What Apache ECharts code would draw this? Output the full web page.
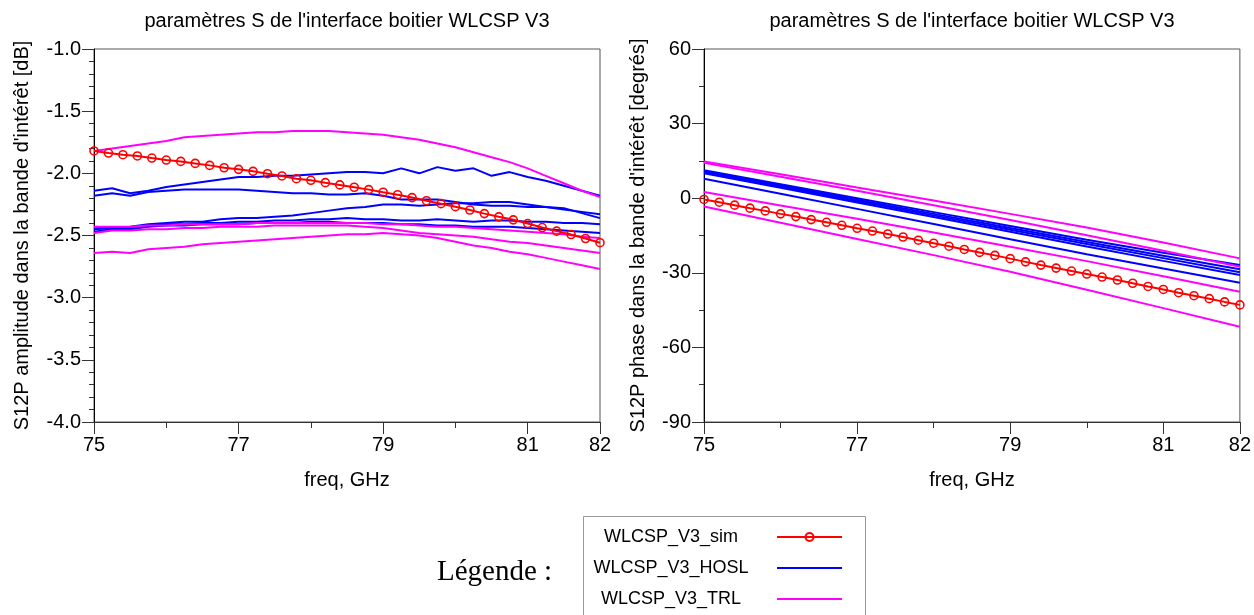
<!DOCTYPE html>
<html><head><meta charset="utf-8">
<script src="https://cdn.jsdelivr.net/npm/echarts@6/dist/echarts.min.js"></script>
<style>html,body{margin:0;padding:0;background:#fff}#c{width:1254px;height:615px}</style>
</head><body><div id="c"></div>
<script>
const TITLE = "paramètres S de l'interface boitier WLCSP V3";
const X_NAME = 'freq, GHz';
const Y_NAME_AMP = "S12P amplitude dans la bande d'intérêt [dB]";
const Y_NAME_PHASE = "S12P phase dans la bande d'intérêt [degrés]";
const NAME_SIM = 'WLCSP_V3_sim';
const NAME_HOSL = 'WLCSP_V3_HOSL';
const NAME_TRL = 'WLCSP_V3_TRL';
const LEGEND_LABEL = 'Légende :';
const F0 = 75;

const FREQ_SIM = [75,75.2,75.4,75.6,75.8,76,76.2,76.4,76.6,76.8,77,77.2,77.4,77.6,77.8,78,78.2,78.4,78.6,78.8,79,79.2,79.4,79.6,79.8,80,80.2,80.4,80.6,80.8,81,81.2,81.4,81.6,81.8,82];
const FREQ_MEAS = [75,75.25,75.5,75.75,76,76.25,76.5,76.75,77,77.25,77.5,77.75,78,78.25,78.5,78.75,79,79.25,79.5,79.75,80,80.25,80.5,80.75,81,81.25,81.5,81.75,82];
const FREQ_PH = [75,76,77,78,79,80,81,82];

// amplitude [dB]
const AMP_SIM = [-1.820,-1.837,-1.850,-1.860,-1.877,-1.893,-1.904,-1.920,-1.936,-1.955,-1.968,-1.984,-2.003,-2.021,-2.043,-2.056,-2.075,-2.093,-2.112,-2.131,-2.152,-2.172,-2.195,-2.220,-2.244,-2.268,-2.295,-2.324,-2.350,-2.374,-2.404,-2.436,-2.465,-2.492,-2.524,-2.558];
const AMP_HOSL_1 = [-2.14,-2.12,-2.16,-2.14,-2.11,-2.09,-2.07,-2.05,-2.03,-2.03,-2.02,-2.02,-2.01,-2.00,-1.99,-1.99,-2.00,-1.96,-2.00,-1.95,-1.98,-1.96,-2.02,-1.99,-2.03,-2.06,-2.10,-2.14,-2.18];
const AMP_HOSL_2 = [-2.18,-2.16,-2.18,-2.15,-2.14,-2.13,-2.13,-2.13,-2.13,-2.14,-2.15,-2.16,-2.16,-2.17,-2.17,-2.16,-2.18,-2.21,-2.21,-2.21,-2.23,-2.25,-2.26,-2.26,-2.27,-2.27,-2.29,-2.31,-2.33];
const AMP_HOSL_3 = [-2.43,-2.44,-2.43,-2.41,-2.40,-2.39,-2.39,-2.37,-2.36,-2.36,-2.35,-2.34,-2.32,-2.30,-2.28,-2.27,-2.25,-2.25,-2.26,-2.25,-2.24,-2.24,-2.23,-2.23,-2.25,-2.27,-2.28,-2.32,-2.36];
const AMP_HOSL_4 = [-2.45,-2.44,-2.44,-2.42,-2.41,-2.41,-2.40,-2.40,-2.39,-2.39,-2.38,-2.38,-2.37,-2.37,-2.36,-2.37,-2.37,-2.38,-2.38,-2.37,-2.38,-2.39,-2.38,-2.38,-2.39,-2.39,-2.40,-2.40,-2.41];
const AMP_HOSL_5 = [-2.47,-2.45,-2.45,-2.43,-2.42,-2.42,-2.41,-2.41,-2.41,-2.40,-2.40,-2.40,-2.39,-2.39,-2.40,-2.40,-2.40,-2.41,-2.41,-2.42,-2.42,-2.43,-2.43,-2.43,-2.44,-2.45,-2.46,-2.47,-2.48];
const AMP_TRL_1 = [-1.82,-1.80,-1.78,-1.76,-1.74,-1.71,-1.70,-1.69,-1.68,-1.67,-1.67,-1.66,-1.66,-1.66,-1.67,-1.68,-1.69,-1.71,-1.73,-1.76,-1.79,-1.83,-1.87,-1.91,-1.96,-2.02,-2.08,-2.14,-2.19];
const AMP_TRL_2 = [-2.43,-2.43,-2.43,-2.42,-2.42,-2.41,-2.41,-2.41,-2.41,-2.40,-2.40,-2.40,-2.40,-2.40,-2.40,-2.40,-2.41,-2.41,-2.42,-2.43,-2.43,-2.44,-2.45,-2.46,-2.47,-2.48,-2.49,-2.51,-2.52];
const AMP_TRL_3 = [-2.48,-2.46,-2.46,-2.45,-2.45,-2.44,-2.44,-2.43,-2.43,-2.43,-2.42,-2.42,-2.42,-2.42,-2.42,-2.43,-2.44,-2.46,-2.48,-2.49,-2.50,-2.51,-2.53,-2.55,-2.56,-2.58,-2.60,-2.62,-2.64];
const AMP_TRL_4 = [-2.64,-2.63,-2.64,-2.61,-2.60,-2.59,-2.57,-2.56,-2.55,-2.54,-2.53,-2.52,-2.51,-2.50,-2.49,-2.49,-2.48,-2.49,-2.50,-2.52,-2.55,-2.58,-2.60,-2.63,-2.65,-2.68,-2.71,-2.74,-2.77];

// phase [degrees]
const PH_SIM = [-0.5,-1.6,-2.8,-4.0,-5.1,-6.3,-7.4,-8.6,-9.7,-10.9,-12.1,-13.2,-14.4,-15.6,-16.9,-18.1,-19.3,-20.6,-21.8,-23.0,-24.3,-25.6,-26.9,-28.1,-29.3,-30.5,-31.7,-32.9,-34.2,-35.5,-36.7,-38.0,-39.2,-40.4,-41.7,-42.9];
const PH_HOSL_1 = [11.2,5.6,0.0,-5.6,-11.2,-16.7,-21.9,-26.9];
const PH_HOSL_2 = [10.8,5.1,-0.6,-6.3,-12.0,-17.6,-23.1,-28.6];
const PH_HOSL_3 = [10.0,4.2,-1.7,-7.6,-13.5,-19.4,-25.2,-30.9];
const PH_HOSL_4 = [7.8,1.8,-4.3,-10.4,-16.5,-22.5,-28.3,-34.0];
const PH_HOSL_5 = [10.4,4.7,-1.1,-6.9,-12.7,-18.4,-24.1,-29.8];
const PH_TRL_1 = [14.8,9.6,4.3,-0.9,-6.3,-11.8,-17.8,-24.2];
const PH_TRL_2 = [14.2,8.6,3.0,-2.8,-8.8,-14.9,-21.1,-27.6];
const PH_TRL_3 = [2.5,-2.9,-8.3,-13.8,-19.5,-25.3,-31.4,-37.6];
const PH_TRL_4 = [-3.3,-9.9,-16.4,-22.9,-29.6,-36.8,-44.2,-51.7];

const FONT = '"Liberation Sans", Arial, sans-serif';
const BLUE = '#0000ff', MAGENTA = '#ff00ff', RED = '#ff0000';

const pair = (xs, ys) => xs.map((x, i) => [x - F0, ys[i]]);

function measLine(name, color, xs, ys, idx) {
  return {name, type: 'line', xAxisIndex: idx, yAxisIndex: idx, data: pair(xs, ys),
    symbol: 'none', lineStyle: {color, width: 2}, itemStyle: {color}, z: 2, animation: false};
}
function simLine(xs, ys, idx) {
  return {name: NAME_SIM, type: 'line', xAxisIndex: idx, yAxisIndex: idx, data: pair(xs, ys),
    symbol: 'circle', symbolSize: 8, showAllSymbol: true,
    lineStyle: {color: RED, width: 2},
    itemStyle: {color: 'rgba(255,255,255,0)', borderColor: RED, borderWidth: 1.6}, z: 4, animation: false};
}

function xAxis(gi) {
  return {type: 'value', gridIndex: gi, min: 0, max: 7, interval: 2,
    name: X_NAME, nameLocation: 'middle', nameGap: 48,
    nameTextStyle: {fontFamily: FONT, fontSize: 20, color: '#000'},
    axisLine: {show: true, onZero: false, lineStyle: {color: '#333', width: 1}},
    axisTick: {show: true, length: 12, lineStyle: {color: '#333'}},
    minorTick: {show: true, splitNumber: 2, length: 6, lineStyle: {color: '#333'}},
    splitLine: {show: false},
    axisLabel: {fontFamily: FONT, fontSize: 20, color: '#000', margin: 13, formatter: v => String(v + F0)}};
}
function yAxis(gi, min, max, interval, split, name, gap, fmt) {
  return {type: 'value', gridIndex: gi, min, max, interval,
    name, nameLocation: 'middle', nameGap: gap, nameRotate: 90,
    nameTextStyle: {fontFamily: FONT, fontSize: 20, color: '#000'},
    axisLine: {show: true, onZero: false, lineStyle: {color: '#000', width: 1}},
    axisTick: {show: true, length: 12, lineStyle: {color: '#333'}},
    minorTick: {show: true, splitNumber: split, length: 5, lineStyle: {color: '#333'}},
    splitLine: {show: false},
    axisLabel: {fontFamily: FONT, fontSize: 20, color: '#000', margin: 13, formatter: fmt}};
}

const series = [
  measLine(NAME_HOSL, BLUE, FREQ_MEAS, AMP_HOSL_1, 0),
  measLine(NAME_HOSL, BLUE, FREQ_MEAS, AMP_HOSL_2, 0),
  measLine(NAME_HOSL, BLUE, FREQ_MEAS, AMP_HOSL_3, 0),
  measLine(NAME_HOSL, BLUE, FREQ_MEAS, AMP_HOSL_4, 0),
  measLine(NAME_HOSL, BLUE, FREQ_MEAS, AMP_HOSL_5, 0),
  measLine(NAME_TRL, MAGENTA, FREQ_MEAS, AMP_TRL_1, 0),
  measLine(NAME_TRL, MAGENTA, FREQ_MEAS, AMP_TRL_2, 0),
  measLine(NAME_TRL, MAGENTA, FREQ_MEAS, AMP_TRL_3, 0),
  measLine(NAME_TRL, MAGENTA, FREQ_MEAS, AMP_TRL_4, 0),
  simLine(FREQ_SIM, AMP_SIM, 0),
  measLine(NAME_HOSL, BLUE, FREQ_PH, PH_HOSL_1, 1),
  measLine(NAME_HOSL, BLUE, FREQ_PH, PH_HOSL_2, 1),
  measLine(NAME_HOSL, BLUE, FREQ_PH, PH_HOSL_3, 1),
  measLine(NAME_HOSL, BLUE, FREQ_PH, PH_HOSL_4, 1),
  measLine(NAME_HOSL, BLUE, FREQ_PH, PH_HOSL_5, 1),
  measLine(NAME_TRL, MAGENTA, FREQ_PH, PH_TRL_1, 1),
  measLine(NAME_TRL, MAGENTA, FREQ_PH, PH_TRL_2, 1),
  measLine(NAME_TRL, MAGENTA, FREQ_PH, PH_TRL_3, 1),
  measLine(NAME_TRL, MAGENTA, FREQ_PH, PH_TRL_4, 1),
  simLine(FREQ_SIM, PH_SIM, 1)
];

const chart = echarts.init(document.getElementById('c'), null, {renderer: 'canvas'});
chart.setOption({
  animation: false,
  backgroundColor: '#fff',
  title: [
    {text: TITLE, left: 347, top: 11, textAlign: 'center', padding: 0,
     textStyle: {fontFamily: FONT, fontSize: 20, fontWeight: 'normal', color: '#000'}},
    {text: TITLE, left: 972, top: 11, textAlign: 'center', padding: 0,
     textStyle: {fontFamily: FONT, fontSize: 20, fontWeight: 'normal', color: '#000'}}
  ],
  grid: [
    {left: 94, top: 49, width: 506, height: 373, show: true, borderColor: '#555', borderWidth: 1, backgroundColor: 'transparent'},
    {left: 704, top: 49, width: 536, height: 373, show: true, borderColor: '#555', borderWidth: 1, backgroundColor: 'transparent'}
  ],
  xAxis: [xAxis(0), xAxis(1)],
  yAxis: [
    yAxis(0, -4, -1, 0.5, 5, Y_NAME_AMP, 62, v => v.toFixed(1)),
    yAxis(1, -90, 60, 30, 2, Y_NAME_PHASE, 56, v => String(v))
  ],
  legend: {
    data: [
      {name: NAME_SIM},
      {name: NAME_HOSL, itemStyle: {opacity: 0}},
      {name: NAME_TRL, itemStyle: {opacity: 0}}
    ],
    orient: 'vertical', left: 570, top: 528, height: 120, padding: 0,
    align: 'right', itemWidth: 65, itemHeight: 10, itemGap: 13,
    selectedMode: false,
    formatter: n => '{t|' + n + '}',
    textStyle: {fontFamily: FONT, fontSize: 18, color: '#000', lineHeight: 18,
      rich: {t: {width: 202, height: 18, lineHeight: 18, align: 'center', fontFamily: FONT, fontSize: 18, color: '#000'}}}
  },
  graphic: [
    {type: 'rect', shape: {x: 583.5, y: 516.5, width: 282, height: 130}, silent: true,
     style: {fill: 'none', stroke: '#999', lineWidth: 1}},
    {type: 'text', x: 437, y: 572, silent: true,
     style: {text: LEGEND_LABEL, font: '29px "Liberation Serif", "Times New Roman", serif', fill: '#000', verticalAlign: 'middle'}}
  ],
  series
});
</script></body></html>
